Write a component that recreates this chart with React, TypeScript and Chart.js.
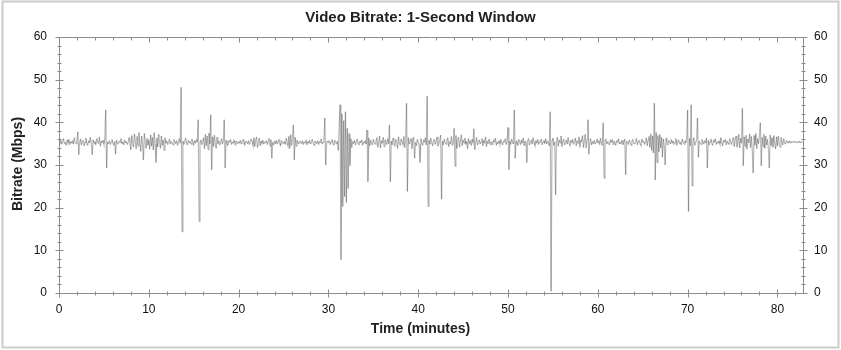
import { useEffect, useRef } from "react";
import { Chart, registerables } from "chart.js";

Chart.register(...registerables);

const TITLE = "Video Bitrate: 1-Second Window";
const X_TITLE = "Time (minutes)";
const Y_TITLE = "Bitrate (Mbps)";
const SAMPLE_MINUTES = 0.1;
const X_MAX = 82.85;
const Y_MAX = 60;
const X_TICKS = [0, 10, 20, 30, 40, 50, 60, 70, 80];
const Y_TICKS = [0, 10, 20, 30, 40, 50, 60];

const bitrate00to10 = [
  35.4, 35.1, 35.8, 34.9, 35.5, 36.2, 35.0, 35.3, 34.6, 35.9,
  35.2, 36.0, 34.8, 35.5, 35.1, 35.7, 34.9, 36.4, 35.3, 35.0,
  35.6, 37.8, 32.4, 35.2, 36.1, 34.7, 35.4, 35.8, 34.5, 35.3,
  36.3, 35.0, 34.6, 35.7, 35.2, 36.5, 34.8, 32.4, 35.9, 35.1,
  35.5, 34.7, 36.2, 35.3, 35.0, 36.6, 34.4, 35.6, 35.2, 35.8,
  34.9, 36.1, 42.9, 29.3, 35.4, 35.0, 35.7, 34.8, 35.3, 36.0,
  35.2, 34.6, 35.5, 32.6, 35.8, 35.1, 34.9, 35.6, 35.3, 36.2,
  35.0, 35.4, 34.7, 35.9, 35.2, 35.5, 34.8, 35.3, 36.4, 35.1,
  33.6, 36.9, 35.0, 34.2, 37.3, 35.4, 33.8, 36.7, 34.5, 37.6,
  35.1, 33.2, 36.8, 34.9, 31.2, 37.4, 35.5, 33.9, 36.2, 34.6,
];
const bitrate10to20 = [
  35.8, 33.7, 37.1, 34.4, 36.5, 33.5, 37.6, 35.0, 30.6, 36.3,
  34.2, 37.2, 35.3, 33.9, 36.8, 34.6, 35.9, 33.4, 36.4, 35.1,
  35.6, 34.8, 35.3, 36.1, 34.9, 35.5, 35.2, 34.7, 36.0, 35.4,
  35.0, 35.7, 34.6, 35.3, 36.2, 35.1, 48.2, 14.4, 35.6, 34.8,
  35.4, 36.3, 35.0, 34.7, 35.8, 35.2, 35.5, 34.9, 36.1, 35.3,
  34.6, 35.7, 35.1, 36.0, 35.4, 40.6, 16.8, 35.2, 35.9, 34.8,
  35.5, 36.4, 33.8, 37.2, 34.5, 36.8, 33.6, 37.5, 34.9, 41.8,
  28.9, 36.6, 34.3, 37.0, 35.2, 33.9, 36.5, 35.0, 35.6, 34.7,
  35.3, 36.2, 34.9, 35.5, 40.6, 29.3, 35.8, 35.1, 34.6, 35.7,
  35.3, 36.0, 34.8, 35.4, 35.1, 35.9, 34.7, 35.6, 35.2, 35.0,
];
const bitrate20to30 = [
  35.5, 35.1, 35.8, 34.9, 35.3, 36.0, 35.2, 34.7, 35.6, 35.4,
  35.0, 35.7, 34.8, 35.3, 36.1, 35.5, 34.6, 36.4, 34.3, 35.9,
  36.6, 34.1, 35.2, 36.3, 34.5, 35.6, 35.1, 35.8, 34.9, 35.4,
  35.2, 35.7, 34.8, 35.5, 36.2, 34.4, 35.9, 31.6, 35.3, 34.7,
  35.6, 35.0, 35.8, 34.9, 35.4, 36.0, 35.1, 34.6, 35.7, 35.3,
  35.0, 35.5, 34.8, 36.3, 35.2, 34.5, 36.7, 33.9, 37.1, 34.6,
  36.2, 39.4, 31.2, 36.5, 34.4, 35.8, 35.1, 34.9, 35.6, 35.3,
  35.0, 35.7, 34.8, 35.4, 35.2, 35.9, 34.7, 35.5, 35.1, 35.8,
  34.9, 35.3, 36.0, 35.2, 34.6, 35.6, 35.4, 35.0, 35.7, 34.8,
  35.5, 35.2, 36.1, 34.9, 35.4, 35.8, 41.0, 30.0, 35.3, 35.6,
];
const bitrate30to40 = [
  35.2, 35.7, 34.8, 35.4, 36.0, 35.1, 34.6, 35.8, 35.3, 34.9,
  35.6, 33.4, 39.2, 44.1, 7.8, 42.0, 20.3, 40.4, 22.6, 42.5,
  21.2, 38.6, 24.5, 37.4, 29.8, 36.2, 34.1, 35.5, 35.0, 35.8,
  34.7, 35.3, 36.1, 35.0, 34.8, 35.6, 35.2, 35.9, 34.6, 35.4,
  35.1, 35.7, 34.9, 38.2, 26.1, 36.3, 34.5, 35.8, 35.2, 34.7,
  36.0, 35.3, 34.9, 35.6, 36.4, 34.2, 35.5, 36.8, 34.0, 35.7,
  35.1, 36.5, 34.3, 35.9, 35.4, 34.8, 36.2, 35.0, 39.4, 26.1,
  35.6, 34.7, 36.3, 35.1, 34.4, 36.0, 35.5, 33.9, 36.6, 35.2,
  34.6, 36.1, 35.3, 34.8, 36.7, 34.1, 35.8, 44.5, 23.8, 36.4,
  34.9, 35.5, 36.2, 33.8, 35.7, 36.5, 31.6, 35.3, 34.5, 36.0,
];
const bitrate40to50 = [
  35.4, 34.8, 30.6, 36.2, 35.1, 34.6, 35.9, 35.3, 36.4, 34.7,
  46.1, 20.3, 35.8, 34.9, 36.3, 35.2, 34.5, 35.7, 36.0, 34.8,
  35.5, 36.6, 34.4, 35.1, 35.9, 37.0, 22.0, 35.6, 34.7, 36.1,
  35.3, 34.9, 35.8, 36.4, 34.3, 35.5, 35.0, 36.7, 34.6, 35.2,
  38.6, 29.7, 36.9, 33.9, 35.8, 36.5, 34.2, 35.4, 37.1, 34.5,
  35.9, 35.1, 36.3, 34.8, 35.6, 33.8, 36.2, 35.0, 35.7, 34.6,
  36.0, 35.3, 38.5, 33.6, 35.5, 36.4, 34.7, 35.2, 35.9, 34.9,
  35.4, 36.2, 34.5, 35.8, 35.1, 36.6, 34.3, 35.6, 35.0, 36.1,
  34.8, 35.5, 35.2, 34.7, 35.9, 35.3, 36.3, 34.6, 35.4, 35.0,
  35.7, 34.9, 36.0, 35.2, 34.7, 35.6, 35.3, 36.2, 34.8, 35.5,
];
const bitrate50to60 = [
  38.8, 28.9, 35.6, 34.8, 36.1, 35.3, 34.9, 42.9, 31.6, 35.7,
  35.2, 34.6, 36.0, 35.4, 34.8, 35.9, 35.1, 36.3, 34.5, 35.6,
  35.0, 30.6, 35.8, 36.2, 34.7, 35.3, 35.9, 34.9, 36.4, 35.2,
  34.6, 35.7, 35.1, 36.0, 34.8, 35.5, 35.3, 36.1, 34.7, 35.4,
  35.8, 35.0, 36.2, 34.9, 35.6, 35.2, 34.5, 42.5, 0.4, 35.9,
  36.3, 34.6, 35.4, 23.0, 35.7, 36.5, 34.4, 35.9, 35.2, 36.8,
  34.3, 35.6, 36.1, 34.7, 35.3, 35.9, 34.9, 36.4, 35.1, 34.6,
  35.8, 35.2, 36.0, 34.8, 35.5, 36.3, 34.5, 35.7, 35.1, 36.6,
  34.2, 35.9, 35.4, 36.9, 34.1, 35.6, 37.2, 34.0, 36.0, 40.6,
  32.5, 35.3, 36.2, 34.7, 35.5, 35.0, 35.8, 34.9, 35.4, 36.1,
];
const bitrate60to70 = [
  35.2, 35.7, 34.8, 36.3, 35.0, 34.6, 39.9, 26.9, 35.8, 36.1,
  34.9, 35.5, 35.2, 34.7, 35.9, 35.3, 36.0, 34.8, 35.6, 35.1,
  34.6, 35.7, 35.3, 36.2, 34.9, 35.4, 35.0, 35.8, 34.7, 35.5,
  36.1, 27.7, 35.6, 35.2, 34.8, 35.9, 35.3, 34.6, 35.7, 36.0,
  35.1, 34.9, 35.5, 36.2, 34.7, 35.4, 35.8, 35.0, 34.6, 36.1,
  35.3, 35.6, 34.8, 35.2, 36.4, 34.5, 35.9, 36.7, 34.1, 37.3,
  33.4, 36.8, 32.8, 44.5, 26.5, 37.6, 30.6, 36.9, 33.1, 37.2,
  34.0, 36.5, 31.8, 36.1, 34.6, 30.0, 36.3, 35.2, 34.7, 35.8,
  35.4, 34.9, 36.0, 35.1, 35.6, 34.8, 35.3, 36.2, 34.6, 35.5,
  35.9, 35.0, 35.4, 34.7, 36.1, 35.3, 34.9, 35.7, 35.2, 36.4,
];
const bitrate70to80 = [
  42.9, 19.1, 36.2, 34.5, 44.1, 25.1, 35.8, 36.4, 34.6, 35.3,
  35.9, 41.0, 31.8, 35.6, 35.1, 34.8, 36.0, 35.4, 34.9, 35.7,
  35.2, 36.3, 29.3, 35.8, 34.7, 35.5, 36.1, 35.0, 34.6, 35.9,
  35.3, 36.2, 34.8, 35.4, 35.1, 35.7, 34.9, 36.4, 35.2, 34.5,
  35.8, 35.3, 36.0, 34.7, 35.6, 35.1, 34.9, 36.2, 35.4, 34.8,
  35.7, 36.5, 34.3, 35.9, 36.8, 34.2, 35.5, 37.2, 34.0, 36.3,
  35.1, 43.3, 29.8, 36.6, 34.4, 37.0, 33.7, 36.1, 35.2, 37.3,
  34.1, 36.7, 33.5, 28.1, 36.9, 34.6, 37.4, 33.8, 36.2, 35.0,
  37.1, 39.9, 29.8, 36.5, 34.3, 37.2, 33.9, 36.8, 34.7, 36.0,
  33.6, 29.3, 37.0, 34.5, 36.4, 34.1, 36.9, 35.2, 33.8, 36.6,
];
const bitrate80toEnd = [
  34.4, 36.8, 35.0, 34.2, 36.5, 35.3, 34.7, 36.2, 35.1, 34.9,
  35.8, 35.4, 35.1, 35.6, 35.3, 35.5, 35.2, 35.4, 35.6, 35.3,
  35.5, 35.2, 35.4, 35.3, 35.6, 35.4, 35.2, 35.5, 35.3,
];

const bitrate = [
  ...bitrate00to10,
  ...bitrate10to20,
  ...bitrate20to30,
  ...bitrate30to40,
  ...bitrate40to50,
  ...bitrate50to60,
  ...bitrate60to70,
  ...bitrate70to80,
  ...bitrate80toEnd,
];

const FONT = '"Liberation Sans", Arial, Helvetica, sans-serif';
const AXIS_COLOR = "#8c8c8c";
const LINE_A = "rgba(60,60,60,0.36)";
const LINE_B = "rgba(61,61,61,0.36)";

const framePlugin = {
  id: "frameAndTitles",
  afterDraw(chart: any) {
    const { ctx, chartArea: a, scales } = chart;
    const xs = scales.x;
    const ys = scales.y;
    const W = chart.width;
    const H = chart.height;
    ctx.save();

    ctx.strokeStyle = "#cccccc";
    ctx.lineWidth = 2;
    ctx.strokeRect(2.5, 1.5, W - 5, H - 4);

    const L = Math.round(a.left) + 0.5;
    const R = Math.round(a.right) + 0.5;
    const T = Math.round(a.top) + 0.5;
    const B = Math.round(a.bottom) + 0.5;
    ctx.strokeStyle = AXIS_COLOR;
    ctx.lineWidth = 1;
    ctx.beginPath();
    ctx.rect(L, T, R - L, B - T);
    ctx.stroke();

    ctx.beginPath();
    for (let v = 0; v <= X_MAX; v += 2) {
      const px = Math.round(xs.getPixelForValue(v)) + 0.5;
      const major = v % 10 === 0;
      const len = major ? 4 : 2;
      ctx.moveTo(px, B - len);
      ctx.lineTo(px, B + len);
      ctx.moveTo(px, T);
      ctx.lineTo(px, T + (major ? 5 : 3));
    }
    for (let v = 0; v <= Y_MAX; v += 2) {
      const py = Math.round(ys.getPixelForValue(v)) + 0.5;
      const major = v % 10 === 0;
      const len = major ? 4 : 2;
      ctx.moveTo(L - len, py);
      ctx.lineTo(L + len, py);
      ctx.moveTo(R - len, py);
      ctx.lineTo(R + len, py);
    }
    ctx.stroke();

    ctx.fillStyle = "#222222";
    ctx.textAlign = "center";
    ctx.textBaseline = "middle";
    ctx.font = `bold 15px ${FONT}`;
    ctx.fillText(TITLE, W / 2, 18);
    ctx.font = `bold 14px ${FONT}`;
    ctx.fillText(X_TITLE, W / 2, 329);
    ctx.translate(18, 164);
    ctx.rotate(-Math.PI / 2);
    ctx.fillText(Y_TITLE, 0, 0);
    ctx.restore();
  },
};

export default function App() {
  const ref = useRef<HTMLCanvasElement | null>(null);

  useEffect(() => {
    if (!ref.current) return;
    const points = bitrate.map((v, i) => ({ x: i * SAMPLE_MINUTES, y: v }));
    const tickFont = { family: FONT, size: 12 };
    const chart = new Chart(ref.current, {
      type: "line",
      data: {
        datasets: [
          {
            data: points,
            borderColor: LINE_A,
            borderWidth: 1.2,
            pointRadius: 0,
            tension: 0,
            fill: false,
            yAxisID: "y",
            segment: {
              borderColor: (c: any) => (c.p0DataIndex % 2 ? LINE_A : LINE_B),
            },
          },
        ],
      },
      options: {
        responsive: false,
        animation: false,
        events: [],
        layout: { padding: { top: 37, left: 0, right: 0, bottom: 0 } },
        plugins: {
          legend: { display: false },
          title: { display: false },
          tooltip: { enabled: false },
        },
        scales: {
          x: {
            type: "linear",
            position: "bottom",
            min: 0,
            max: X_MAX,
            grid: { display: false, drawTicks: false },
            border: { display: false },
            ticks: { font: tickFont, color: "#111", padding: 9, maxRotation: 0 },
            afterBuildTicks: (s: any) => {
              s.ticks = X_TICKS.map((v) => ({ value: v }));
            },
            afterFit: (s: any) => {
              s.height = 57;
            },
          },
          y: {
            type: "linear",
            position: "left",
            min: 0,
            max: Y_MAX,
            grid: { display: false, drawTicks: false },
            border: { display: false },
            ticks: { font: tickFont, color: "#111", padding: 12 },
            afterBuildTicks: (s: any) => {
              s.ticks = Y_TICKS.map((v) => ({ value: v }));
            },
            afterFit: (s: any) => {
              s.width = 59;
            },
          },
          y2: {
            type: "linear",
            position: "right",
            min: 0,
            max: Y_MAX,
            grid: { display: false, drawTicks: false },
            border: { display: false },
            ticks: { font: tickFont, color: "#111", padding: 11 },
            afterBuildTicks: (s: any) => {
              s.ticks = Y_TICKS.map((v) => ({ value: v }));
            },
            afterFit: (s: any) => {
              s.width = 38;
            },
          },
        },
      },
      plugins: [framePlugin],
    });
    return () => chart.destroy();
  }, []);

  return (
    <div style={{ position: "fixed", left: 0, top: 0, width: 841, height: 350, background: "#fff" }}>
      <canvas ref={ref} width={841} height={350} style={{ display: "block" }} />
    </div>
  );
}
